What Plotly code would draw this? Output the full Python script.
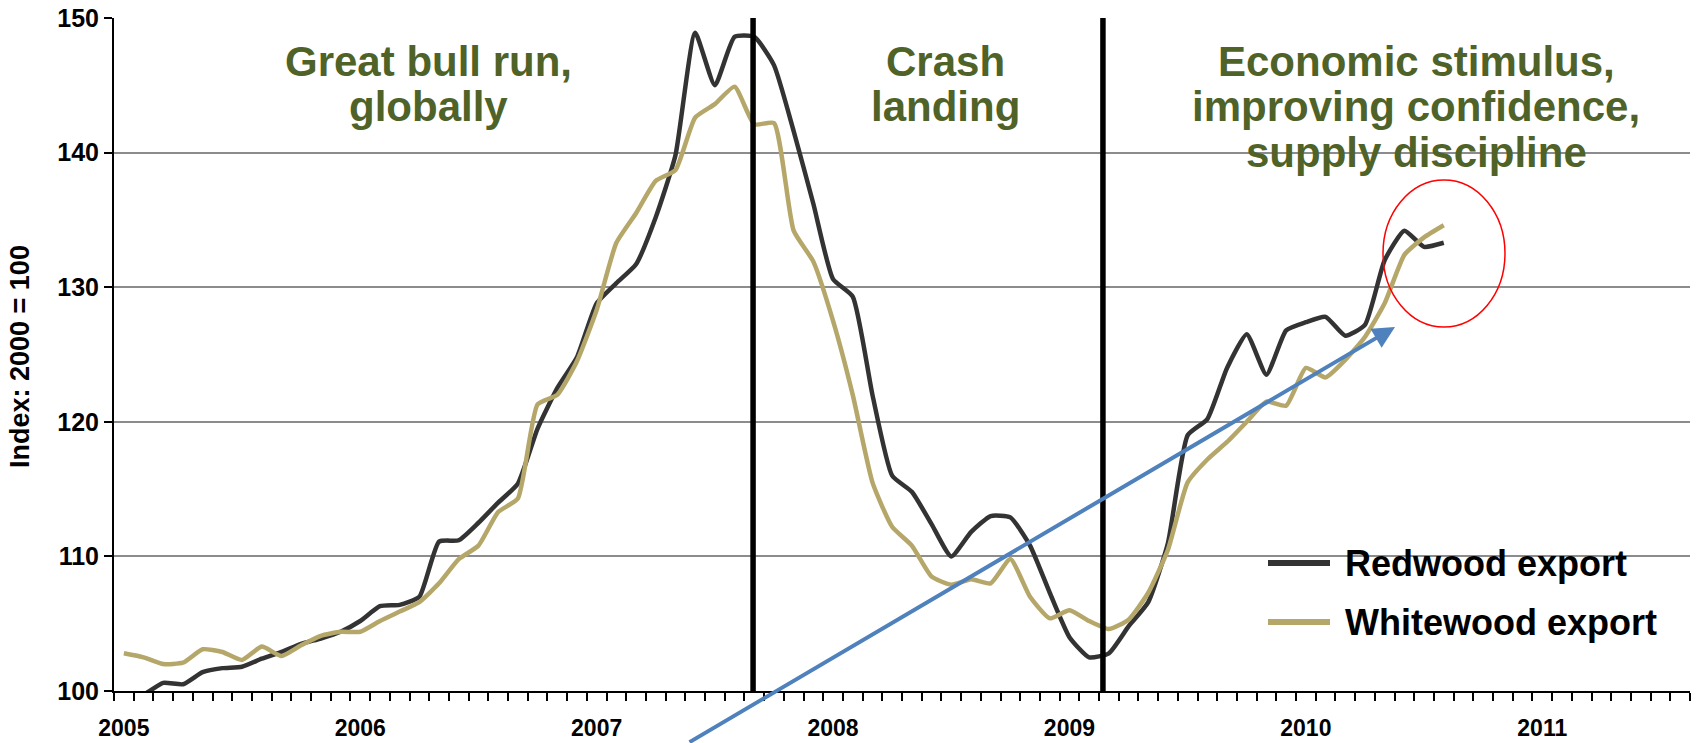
import plotly.graph_objects as go
import pandas as pd

FONT = "Liberation Sans, Arial, Helvetica, sans-serif"
OLIVE = "#4F6228"
REDWOOD_COLOR = "#333333"
WHITEWOOD_COLOR = "#B5A76A"
ARROW_BLUE = "#4F81BD"

# Monthly export price indices (2000 = 100), Jan 2005 onwards
months = pd.period_range("2005-01", periods=68, freq="M")
redwood = [
    98.8, 99.7, 100.6, 100.5, 101.4, 101.7, 101.8, 102.4, 102.9, 103.5, 103.9, 104.4,
    105.2, 106.3, 106.4, 107.0, 111.1, 111.2, 112.5, 114.0, 115.4, 119.5, 122.5, 124.8,
    128.8, 130.3, 131.7, 135.2, 139.8, 148.9, 145.0, 148.6, 148.6, 146.5, 141.6, 136.2,
    130.6, 129.3, 122.0, 116.0, 114.8, 112.4, 110.0, 111.8, 113.0, 112.9, 110.8, 107.3,
    104.0, 102.5, 102.8, 104.8, 106.6, 111.0, 119.0, 120.2, 124.0, 126.5, 123.5, 126.8,
    127.4, 127.8, 126.4, 127.2, 132.0, 134.2, 133.0, 133.3,
]
whitewood = [
    102.8, 102.5, 102.0, 102.1, 103.1, 102.9, 102.3, 103.3, 102.6, 103.4, 104.1, 104.4,
    104.4, 105.2, 105.9, 106.6, 108.0, 109.8, 110.8, 113.3, 114.3, 121.3, 122.0, 124.5,
    128.3, 133.3, 135.5, 137.9, 138.7, 142.6, 143.6, 144.9, 142.1, 142.2, 134.2, 131.9,
    127.5, 122.0, 115.5, 112.2, 110.8, 108.5, 107.9, 108.3, 108.0, 109.8, 107.0, 105.4,
    106.0, 105.2, 104.6, 105.3, 107.3, 110.5, 115.5, 117.2, 118.5, 120.0, 121.5, 121.2,
    124.0, 123.3, 124.6, 126.3, 128.8, 132.4, 133.7, 134.6,
]
year_labels = ["2005", "2006", "2007", "2008", "2009", "2010", "2011"]
# Month positions where the market regime changes
period_breaks = [31.94, 49.7]

x = list(range(len(months)))
year_ticks = [12 * k for k in range(len(year_labels))]

# Plot-area geometry in pixels
W, H = 1698, 743
L, R, T, B = 114, 1690, 18, 691


def px(xp):
    return (xp - L) / (R - L)


def py(yp):
    return (B - yp) / (B - T)


fig = go.Figure()
fig.add_trace(go.Scatter(
    x=x, y=redwood, mode="lines", name="Redwood export",
    line=dict(color=REDWOOD_COLOR, width=4.5, shape="spline", smoothing=0.5),
))
fig.add_trace(go.Scatter(
    x=x, y=whitewood, mode="lines", name="Whitewood export",
    line=dict(color=WHITEWOOD_COLOR, width=4.5, shape="spline", smoothing=0.5),
))

shapes = []
for b in period_breaks:
    shapes.append(dict(type="line", xref="x", yref="y", x0=b, x1=b, y0=100, y1=150,
                       line=dict(color="black", width=5.5), layer="above"))

# white panel behind the third heading
shapes.append(dict(type="rect", xref="paper", yref="paper",
                   x0=px(1140), x1=1, y0=py(185), y1=py(24),
                   fillcolor="white", line=dict(width=0), layer="between"))
# legend panel
shapes.append(dict(type="rect", xref="paper", yref="paper",
                   x0=px(1238), x1=px(1687), y0=py(660), y1=py(530),
                   fillcolor="white", line=dict(width=0), layer="between"))
legend_rows = [("Redwood export", REDWOOD_COLOR, 563), ("Whitewood export", WHITEWOOD_COLOR, 622)]
for _, col, yy in legend_rows:
    shapes.append(dict(type="line", xref="paper", yref="paper",
                       x0=px(1268), x1=px(1330), y0=py(yy), y1=py(yy),
                       line=dict(color=col, width=6), layer="above"))
# highlight ring around the latest readings
shapes.append(dict(type="circle", xref="paper", yref="paper",
                   x0=px(1383), x1=px(1505), y0=py(327), y1=py(180),
                   line=dict(color="red", width=1.5), layer="above"))

annotations = []
headings = [
    ("Great bull run,", 428, 61), ("globally", 428, 107),
    ("Crash", 945, 61), ("landing", 945, 107),
    ("Economic stimulus,", 1416, 61), ("improving confidence,", 1416, 107),
    ("supply discipline", 1416, 153),
]
for txt, xx, yy in headings:
    annotations.append(dict(text=txt, xref="paper", yref="paper", x=px(xx), y=py(yy),
                            xanchor="center", yanchor="middle", showarrow=False,
                            font=dict(family=FONT, size=42, color=OLIVE, weight="bold")))
for name, _, yy in legend_rows:
    annotations.append(dict(text=name, xref="paper", yref="paper", x=px(1343), y=py(yy),
                            xanchor="left", yanchor="middle", showarrow=False,
                            font=dict(family=FONT, size=36, color="black", weight="bold")))
annotations.append(dict(text="Index: 2000 = 100", xref="paper", yref="paper",
                        x=px(20), y=py(357), textangle=-90, xanchor="center", yanchor="middle",
                        showarrow=False,
                        font=dict(family=FONT, size=27, color="black", weight="bold")))
# trend arrow
annotations.append(dict(text="", xref="paper", yref="paper", x=px(1395), y=py(327),
                        ax=688 - 1395, ay=743 - 327, axref="pixel", ayref="pixel",
                        showarrow=True, arrowhead=2, arrowsize=1.1, arrowwidth=4,
                        arrowcolor=ARROW_BLUE))

fig.update_layout(
    width=W, height=H,
    margin=dict(l=L, r=W - R, t=T, b=H - B, autoexpand=False),
    paper_bgcolor="white", plot_bgcolor="white",
    showlegend=False,
    shapes=shapes, annotations=annotations,
    font=dict(family=FONT, color="black"),
)
fig.update_xaxes(
    range=[-0.5, 79.5], showgrid=False, zeroline=False,
    showline=True, linecolor="black", linewidth=2,
    tickmode="array", tickvals=year_ticks, ticktext=year_labels, ticks="",
    tickfont=dict(family=FONT, size=23, color="black", weight="bold"),
    ticklabelstandoff=15,
    minor=dict(ticks="outside", tick0=-0.5, dtick=1, ticklen=8, tickwidth=1.5,
               tickcolor="black", showgrid=False),
)
fig.update_yaxes(
    range=[100, 150], dtick=10, showgrid=True, gridcolor="#8C8C8C", gridwidth=1.5,
    zeroline=False, showline=True, linecolor="black", linewidth=2,
    ticks="outside", ticklen=8, tickwidth=1.5, tickcolor="black",
    tickfont=dict(family=FONT, size=25, color="black", weight="bold"),
)

fig.write_html("out.html")
